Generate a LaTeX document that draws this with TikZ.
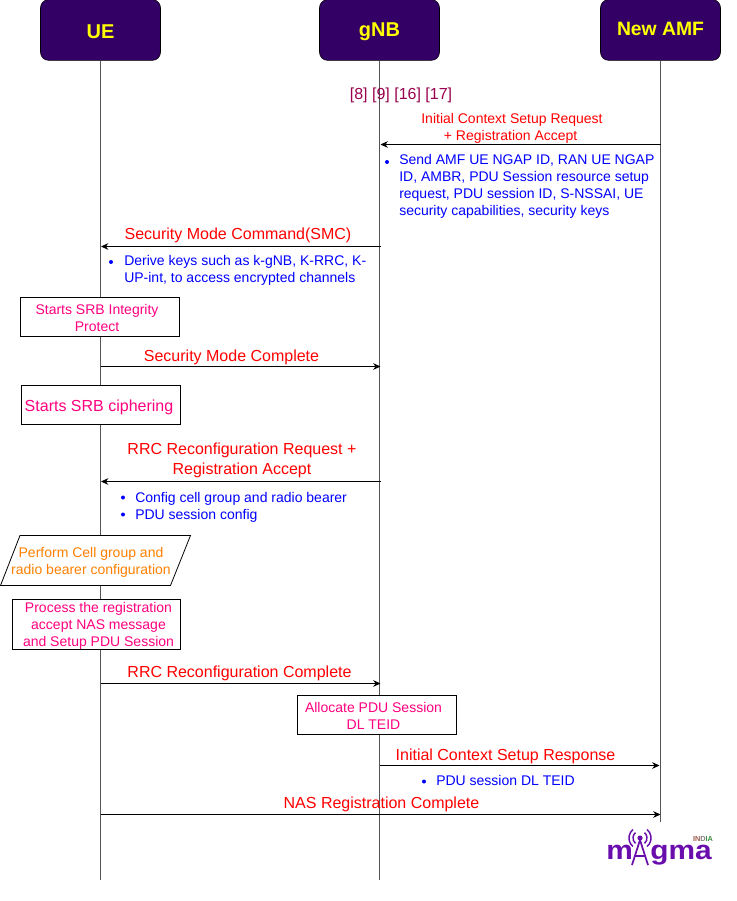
\documentclass[tikz,border=0pt]{standalone}
\usepackage{fontspec}
\setmainfont{Liberation Sans}
\usetikzlibrary{arrows.meta,positioning}
\definecolor{headFill}{HTML}{330066}
\definecolor{headText}{HTML}{FFFF00}
\definecolor{lifeGray}{HTML}{555555}
\definecolor{msgRed}{HTML}{FF0000}
\definecolor{noteBlue}{HTML}{0000FF}
\definecolor{stepPink}{HTML}{FF0080}
\definecolor{stepOrange}{HTML}{FF8000}
\definecolor{refMaroon}{HTML}{99004D}
\definecolor{logoPurple}{HTML}{6A0DAD}
\definecolor{logoRed}{HTML}{A05A50}
\definecolor{logoGreen}{HTML}{3F8F3F}

\begin{document}
\begin{tikzpicture}[
  x=0.75pt, y=-0.75pt,
  >=Stealth,
  head/.style={draw=black, fill=headFill, rounded corners=6pt, minimum width=90pt, minimum height=45.5pt, text=headText, font=\fontsize{15}{18}\selectfont\bfseries},
  life/.style={draw=lifeGray, line width=0.6pt},
  msgl/.style={draw=black, line width=0.6pt, {Stealth[length=5.5pt,width=5pt]}-},
  msgr/.style={draw=black, line width=0.6pt, -{Stealth[length=5.5pt,width=5pt]}},
  msglabel/.style={text=msgRed, font=\fontsize{12}{14.4}\selectfont, align=center, inner sep=0pt},
  smallmsg/.style={text=msgRed, font=\fontsize{10.5}{12.6}\selectfont, align=center, inner sep=0pt},
  note/.style={text=noteBlue, font=\fontsize{10.5}{12.6}\selectfont, align=left, anchor=north west, inner sep=0pt},
  stepbox/.style={draw=black, fill=white, line width=0.6pt, inner sep=0pt},
  steptext/.style={text=stepPink, align=center, inner sep=0pt, font=\fontsize{10.5}{12.8}\selectfont},
  dot/.style={circle, fill=noteBlue, inner sep=0pt, minimum size=3pt},
  logotext/.style={text=logoPurple, font=\fontsize{20}{20}\selectfont\bfseries, inner sep=0pt, anchor=base west, xscale=1.12}
]
\useasboundingbox (0,0) rectangle (737,901);

% participants
\node[head, text height=12.2pt] (ue) at (100.5,30) {UE};
\node[head, text height=13pt] (gnb) at (379.5,30) {gNB};
\node[head, text depth=1.5pt, font=\fontsize{14.5}{18}\selectfont\bfseries] (amf) at (660.5,30) {New AMF};

\coordinate (ueEnd) at (100.5,880);
\coordinate (gnbEnd) at (379.5,880);
\coordinate (amfEnd) at (660.5,822);
\draw[life] (ue) -- (ueEnd);
\draw[life] (gnb) -- (gnbEnd);
\draw[life] (amf) -- (amfEnd);

\node[text=refMaroon, font=\fontsize{12}{14}\selectfont, inner sep=0pt] (refs) at (401,95.5) {[8] [9] [16] [17]};

% initial context setup
\coordinate (m1a) at (660.5,144.5);
\coordinate (m1b) at (380.5,144.5);
\draw[msgl] (m1b) -- (m1a);
\node[smallmsg] (m1t) at (512,128.5) {Initial Context Setup Request\\[0pt]\hspace*{-2pt}+ Registration Accept};
\node[dot] (d1) at (387,162) {};
\node[note] (n1) at (399,154.5) {Send AMF UE NGAP ID, RAN UE NGAP\\ID, AMBR, PDU Session resource setup\\request, PDU session ID, S-NSSAI, UE\\security capabilities, security keys};

% smc
\coordinate (m2a) at (381,246.5);
\coordinate (m2b) at (101,246.5);
\draw[msgl] (m2b) -- (m2a);
\node[msglabel] (m2t) at (238,235.5) {Security Mode Command(SMC)};
\node[dot] (d2) at (111,262) {};
\node[note] (n2) at (124,255.5) {Derive keys such as k-gNB, K-RRC, K-\\UP-int, to access encrypted channels};

\node[stepbox, minimum width=119.25pt, minimum height=29.25pt] (s1) at (100,317) {};
\node[steptext] (s1t) at (97,318) {Starts SRB Integrity\\Protect};

\coordinate (m3a) at (100.5,366.5);
\coordinate (m3b) at (380.5,366.5);
\draw[msgr] (m3a) -- (m3b);
\node[msglabel] (m3t) at (231.5,357.5) {Security Mode Complete};

\node[stepbox, minimum width=119.25pt, minimum height=29.25pt] (s2) at (101,405) {};
\node[steptext, font=\fontsize{12}{14}\selectfont] (s2t) at (99,407) {Starts SRB ciphering};

% rrc reconfiguration
\coordinate (m4a) at (381,481.5);
\coordinate (m4b) at (101,481.5);
\draw[msgl] (m4b) -- (m4a);
\node[msglabel, font=\fontsize{12}{15.4}\selectfont] (m4t) at (242,460.5) {RRC Reconfiguration Request +\\Registration Accept};
\node[dot] (d3) at (123,497.5) {};
\node[dot] (d4) at (123,514.5) {};
\node[note] (n3) at (135,492) {Config cell group and radio bearer\\PDU session config};

\draw[fill=white, line width=0.6pt] (20,535.5) -- (190.5,535.5) -- (170.5,585.5) -- (0.5,585.5) -- cycle;
\node[steptext, text=stepOrange] (s3t) at (91,562.5) {Perform Cell group and\\radio bearer configuration};

\node[stepbox, minimum width=126pt, minimum height=37.5pt] (s4) at (96.5,624.5) {};
\node[steptext] (s4t) at (98.5,625.5) {Process the registration\\accept NAS message\\and Setup PDU Session};

\coordinate (m5a) at (100.5,683.5);
\coordinate (m5b) at (380.5,683.5);
\draw[msgr] (m5a) -- (m5b);
\node[msglabel] (m5t) at (239.5,673.5) {RRC Reconfiguration Complete};

\node[stepbox, minimum width=119.25pt, minimum height=29.25pt] (s5) at (376.5,715) {};
\node[steptext] (s5t) at (373.5,716) {Allocate PDU Session\\DL TEID};

% response
\coordinate (m6a) at (379.5,765.5);
\coordinate (m6b) at (659.5,765.5);
\draw[msgr] (m6a) -- (m6b);
\node[msglabel] (m6t) at (505.5,756.5) {Initial Context Setup Response};
\node[dot] (d5) at (424,781.5) {};
\node[note] (n4) at (436,775.5) {PDU session DL TEID};

\coordinate (m7a) at (100.5,814.5);
\coordinate (m7b) at (660.5,814.5);
\draw[msgr] (m7a) -- (m7b);
\node[msglabel] (m7t) at (381.5,804.5) {NAS Registration Complete};

% logo
\node[logotext] (logoM) at (606,859.5) {m};
\node[logotext] (logoG) at (650,859.5) {gma};
\draw[logoPurple, line width=1.3pt] (632,865) -- (640,840) -- (648,865) (635,856) -- (645,856);
\fill[logoPurple] (640,838) circle (2.6);
\draw[logoPurple, line width=1.1pt] (632.9,846.4) arc (130:230:11) (647.1,846.4) arc (50:-50:11) (635.5,843.4) arc (130:230:7) (644.5,843.4) arc (50:-50:7);
\node[font=\fontsize{5.5}{6}\selectfont\bfseries, inner sep=0pt, text=logoGreen] (logoI) at (703,838.5) {\textcolor{logoRed}{IN}\textcolor{gray}{D}IA};
\end{tikzpicture}
\end{document}
